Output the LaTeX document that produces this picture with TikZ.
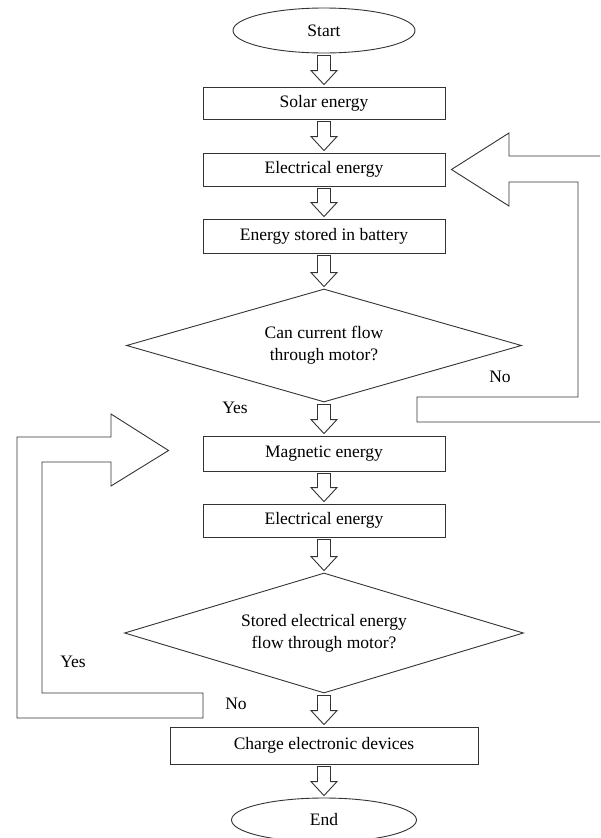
\documentclass[tikz,border=0pt]{standalone}
\usepackage{fontspec}
\setmainfont{Liberation Serif}
\usetikzlibrary{shapes.geometric,calc}
\tikzset{
  ln/.style={draw=black!80, line width=0.9pt, line join=miter},
  txt/.style={font=\fontsize{17.5}{22}\selectfont, text=black},
  procbox/.style={ln, txt, rectangle, minimum width=242pt, inner sep=0pt},
  term/.style={ln, txt, ellipse, inner sep=0pt},
  decis/.style={ln, txt, diamond, inner sep=0pt, align=center, aspect=3.5},
  lbl/.style={txt, inner sep=0pt}
}
\newcommand\barr[2]{%
  \draw[ln] let \p1=(#1.south), \p2=(#2.north) in
  (\x1-6.5pt,\y1-2pt) -- (\x1-6.5pt,\y2+16pt) -- (\x1-13pt,\y2+16pt) --
  (\x1,\y2+2pt) -- (\x1+13pt,\y2+16pt) -- (\x1+6.5pt,\y2+16pt) --
  (\x1+6.5pt,\y1-2pt) -- cycle;}
\begin{document}
\begin{tikzpicture}[x=1pt,y=-1pt]
\useasboundingbox (0,0) rectangle (600,838);
\clip (0,0) rectangle (600,838);
\node[term, minimum width=182pt, minimum height=45pt] (start) at (324,30.5) {Start};
\node[procbox, minimum height=32pt] (solar) at (324,103) {Solar energy};
\node[procbox, minimum height=33pt] (elec1) at (324,169.5) {Electrical energy};
\node[procbox, minimum height=34pt] (batt) at (324,236) {Energy stored in battery};
\node[decis, minimum width=395pt, minimum height=113pt] (dec1) at (324,345.5) {Can current flow\\through motor?};
\node[procbox, minimum height=35pt] (mag) at (324,453.5) {Magnetic energy};
\node[procbox, minimum height=33pt] (elec2) at (324,520.5) {Electrical energy};
\node[decis, minimum width=399pt, minimum height=120pt] (dec2) at (324,633) {Stored electrical energy\\flow through motor?};
\node[procbox, minimum width=308pt, minimum height=37pt] (charge) at (324,745.5) {Charge electronic devices};
\node[term, minimum width=185pt, minimum height=44pt] (end) at (324,820) {End};

\barr{start}{solar}
\barr{solar}{elec1}
\barr{elec1}{batt}
\barr{batt}{dec1}
\barr{dec1}{mag}
\barr{mag}{elec2}
\barr{elec2}{dec2}
\barr{dec2}{charge}
\barr{charge}{end}

% feedback arrow: No -> Electrical energy
\coordinate (rtip) at ($(elec1.east)+(6,0)$);
\draw[ln] (rtip) -- (509,133) -- (509,156) -- (620,156) -- (620,422) -- (417,422)
  -- (417,397) -- (578,397) -- (578,182) -- (509,182) -- (509,206) -- cycle;

% feedback arrow: Yes -> Magnetic energy
\coordinate (ltip) at ($(mag.west)+(-34,-3)$);
\draw[ln] (ltip) -- (111,486) -- (111,462) -- (42,462) -- (42,693) -- (203,693)
  -- (203,718) -- (17,718) -- (17,437) -- (111,437) -- (111,414) -- cycle;

\node[lbl] (no1) at (500,377) {No};
\node[lbl] (yes1) at (235,408) {Yes};
\node[lbl] (yes2) at (73,662) {Yes};
\node[lbl] (no2) at (236,704) {No};
\end{tikzpicture}
\end{document}
